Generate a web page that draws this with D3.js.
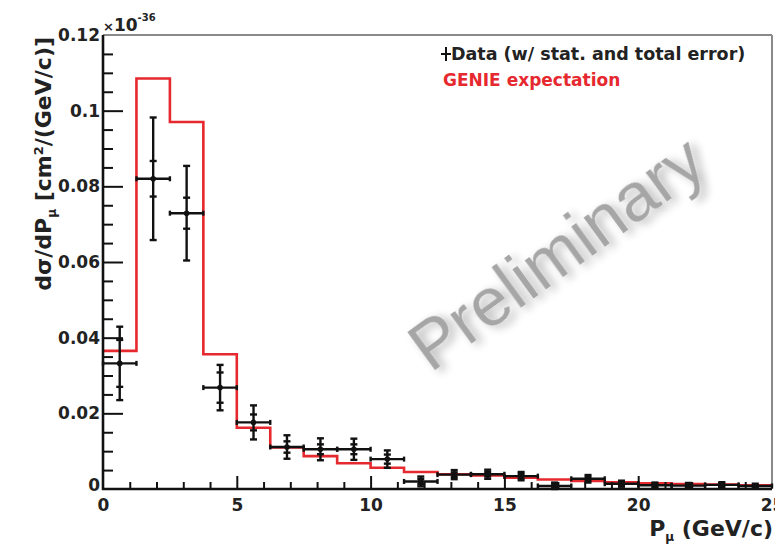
<!DOCTYPE html>
<html>
<head>
<meta charset="utf-8">
<script src="https://cdn.jsdelivr.net/npm/d3@7"></script>
<style>
html,body{margin:0;padding:0;background:#fff;}
svg{display:block;font-family:"DejaVu Sans",Arial,Helvetica,sans-serif;}
</style>
</head>
<body>
<svg id="chart" width="775" height="545"></svg>
<script>
// ---- data ----
const binEdges = [0,1.25,2.5,3.75,5,6.25,7.5,8.75,10,11.25,12.5,13.75,15,16.25,17.5,18.75,20,21.25,22.5,23.75,25];
const genie = [0.0365,0.1085,0.0970,0.0356,0.0162,0.0110,0.0087,0.0068,0.0056,0.0045,0.0039,0.0036,0.0030,0.0025,0.0021,0.0018,0.0015,0.0013,0.0012,0.0010];
const dataVal = [0.0332,0.0820,0.0729,0.0268,0.0176,0.0111,0.0105,0.0105,0.0079,0.0020,0.0038,0.0039,0.0034,0.0008,0.0027,0.0014,0.0010,0.0009,0.0011,0.0008];
const statErr = [0.0062,0.0047,0.0041,0.0040,0.0021,0.0015,0.0013,0.0013,0.0012,0.0007,0.0006,0.0006,0.0006,0.0005,0.0005,0.0004,0.0004,0.0004,0.0004,0.0003];
const totErr  = [0.0097,0.0162,0.0125,0.0060,0.0045,0.0031,0.0029,0.0028,0.0023,0.0013,0.0012,0.0012,0.0011,0.0009,0.0010,0.0008,0.0007,0.0007,0.0007,0.0006];
const xTickValues = [0,5,10,15,20,25];
const xTickLabels = ["0","5","10","15","20","25"];
const yTickValues = [0,0.02,0.04,0.06,0.08,0.1,0.12];
const yTickLabels = ["0","0.02","0.04","0.06","0.08","0.1","0.12"];

const FONT = "DejaVu Sans, Arial, sans-serif";
const svg = d3.select("#chart");
const L = 103, R = 772, T = 35, B = 489;
const x = d3.scaleLinear().domain([0,25]).range([L,R]);
const y = d3.scaleLinear().domain([0,0.12]).range([B,T]);

const defs = svg.append("defs");
const f = defs.append("filter").attr("id","shadow").attr("x","-20%").attr("y","-20%").attr("width","140%").attr("height","140%");
f.append("feGaussianBlur").attr("in","SourceAlpha").attr("stdDeviation",5).attr("result","b");
f.append("feOffset").attr("in","b").attr("dx",4).attr("dy",5).attr("result","o");
f.append("feComponentTransfer").attr("in","o").attr("result","s").append("feFuncA").attr("type","linear").attr("slope",0.3);
const fm = f.append("feMerge");
fm.append("feMergeNode").attr("in","s");
fm.append("feMergeNode").attr("in","SourceGraphic");

// watermark
svg.append("text")
  .attr("transform","translate(570,272) rotate(-36)")
  .attr("text-anchor","middle")
  .attr("font-family","Liberation Sans, Arial, sans-serif")
  .attr("font-size",69)
  .attr("fill","#a6a6a6")
  .attr("filter","url(#shadow)")
  .text("Preliminary");

// frame top/right
svg.append("line").attr("x1",L).attr("x2",R).attr("y1",T).attr("y2",T).attr("stroke","#8a8a8a").attr("stroke-width",2);
svg.append("line").attr("x1",R).attr("x2",R).attr("y1",T).attr("y2",B).attr("stroke","#8a8a8a").attr("stroke-width",2);

// GENIE histogram
const stepPts = binEdges.map((e,i)=>[e, genie[Math.min(i,genie.length-1)]]);
svg.append("path")
  .attr("d", d3.line().x(d=>x(d[0])).y(d=>y(d[1])).curve(d3.curveStepAfter)(stepPts))
  .attr("fill","none").attr("stroke","#e6282f").attr("stroke-width",2.6);

// data points
const g = svg.append("g").attr("stroke","#111").attr("stroke-width",2.4).attr("fill","#111");
dataVal.forEach((v,i)=>{
  const x0 = x(binEdges[i]), x1 = x(binEdges[i+1]), xc = (x0+x1)/2;
  const yc = y(v);
  g.append("line").attr("x1",x0).attr("x2",x1).attr("y1",yc).attr("y2",yc);
  g.append("line").attr("x1",x0).attr("x2",x0).attr("y1",yc-2.5).attr("y2",yc+2.5);
  g.append("line").attr("x1",x1).attr("x2",x1).attr("y1",yc-2.5).attr("y2",yc+2.5);
  const yt1 = y(v+totErr[i]), yt0 = y(Math.max(0,v-totErr[i]));
  g.append("line").attr("x1",xc).attr("x2",xc).attr("y1",yt1).attr("y2",yt0);
  [yt1, yt0, y(v+statErr[i]), y(v-statErr[i])].forEach(yy=>{
    g.append("line").attr("x1",xc-3.5).attr("x2",xc+3.5).attr("y1",yy).attr("y2",yy);
  });
  g.append("circle").attr("cx",xc).attr("cy",yc).attr("r",2.8).attr("stroke","none");
});

// Y axis
const yMinor = d3.range(0,0.1201,0.005).filter(v=>!yTickValues.some(t=>Math.abs(t-v)<1e-9));
svg.append("g").attr("transform",`translate(${L},0)`)
  .call(d3.axisLeft(y).tickValues(yMinor).tickSize(-10).tickFormat(""))
  .call(a=>{a.select(".domain").remove(); a.selectAll("line").attr("stroke","#111").attr("stroke-width",2);});
const yAx = svg.append("g").attr("transform",`translate(${L},0)`)
  .call(d3.axisLeft(y).tickValues(yTickValues).tickSize(-20).tickPadding(3).tickFormat((d,i)=>yTickLabels[i]))
  .call(a=>{a.select(".domain").remove(); a.selectAll("line").attr("stroke","#111").attr("stroke-width",2);
    a.selectAll("text").attr("font-size",17).attr("font-weight","bold").attr("fill","#222").attr("font-family",FONT);});
yAx.selectAll(".tick").filter((d)=>d===0).select("line").remove();
yAx.selectAll(".tick").filter((d)=>d===0).select("text").attr("dy","0.1em");
yAx.selectAll(".tick").filter((d)=>d===0.12).select("line").remove();

// X axis
const xMinor = d3.range(0,25.01,1).filter(v=>v%5!==0);
svg.append("g").attr("transform",`translate(0,${B})`)
  .call(d3.axisBottom(x).tickValues(xMinor).tickSize(-7).tickFormat(""))
  .call(a=>{a.select(".domain").remove(); a.selectAll("line").attr("stroke","#111").attr("stroke-width",2);});
const xAx = svg.append("g").attr("transform",`translate(0,${B})`)
  .call(d3.axisBottom(x).tickValues(xTickValues).tickSize(-13).tickPadding(4).tickFormat((d,i)=>xTickLabels[i]))
  .call(a=>{a.select(".domain").remove(); a.selectAll("line").attr("stroke","#111").attr("stroke-width",2);
    a.selectAll("text").attr("font-size",17).attr("font-weight","bold").attr("fill","#222").attr("dy","1.05em").attr("font-family",FONT);});
xAx.selectAll(".tick").filter(d=>d===0||d===25).select("line").remove();

// axis lines
svg.append("line").attr("x1",L).attr("x2",L).attr("y1",T).attr("y2",B+1).attr("stroke","#111").attr("stroke-width",2.6);
svg.append("line").attr("x1",L-1).attr("x2",R).attr("y1",B).attr("y2",B).attr("stroke","#111").attr("stroke-width",2.6);

// exponent
const ex = svg.append("text").attr("x",103).attr("y",31).attr("font-weight","bold").attr("fill","#222");
ex.append("tspan").attr("font-size",13).text("×");
ex.append("tspan").attr("font-size",17).text("10");
ex.append("tspan").attr("font-size",10).attr("dy",-10).text("-36");

// axis titles
const yt = svg.append("text").attr("transform","translate(51,37) rotate(-90)")
  .attr("text-anchor","end").attr("font-size",22).attr("font-weight","bold").attr("fill","#222");
yt.append("tspan").text("dσ/dP");
yt.append("tspan").attr("font-size",12).attr("dy",5).text("μ");
yt.append("tspan").attr("dy",-5).text(" [cm");
yt.append("tspan").attr("font-size",13).attr("dy",-8).text("2");
yt.append("tspan").attr("dy",8).text("/(GeV/c)]");

const xt = svg.append("text").attr("x",773).attr("y",536)
  .attr("text-anchor","end").attr("font-size",22).attr("font-weight","bold").attr("fill","#222");
xt.append("tspan").text("P");
xt.append("tspan").attr("font-size",12).attr("dy",5).text("μ");
xt.append("tspan").attr("dy",-5).text(" (GeV/c)");

// legend
const lg = svg.append("g");
lg.append("line").attr("x1",441).attr("x2",451).attr("y1",54).attr("y2",54).attr("stroke","#111").attr("stroke-width",2);
lg.append("line").attr("x1",446).attr("x2",446).attr("y1",47).attr("y2",61).attr("stroke","#111").attr("stroke-width",2);
lg.append("text").attr("x",451).attr("y",60).attr("font-size",17.5).attr("font-weight","bold").attr("fill","#222")
  .text("Data (w/ stat. and total error)");
lg.append("text").attr("x",443).attr("y",86).attr("font-size",17).attr("font-weight","bold").attr("fill","#e6282f")
  .text("GENIE expectation");
</script>
</body>
</html>
